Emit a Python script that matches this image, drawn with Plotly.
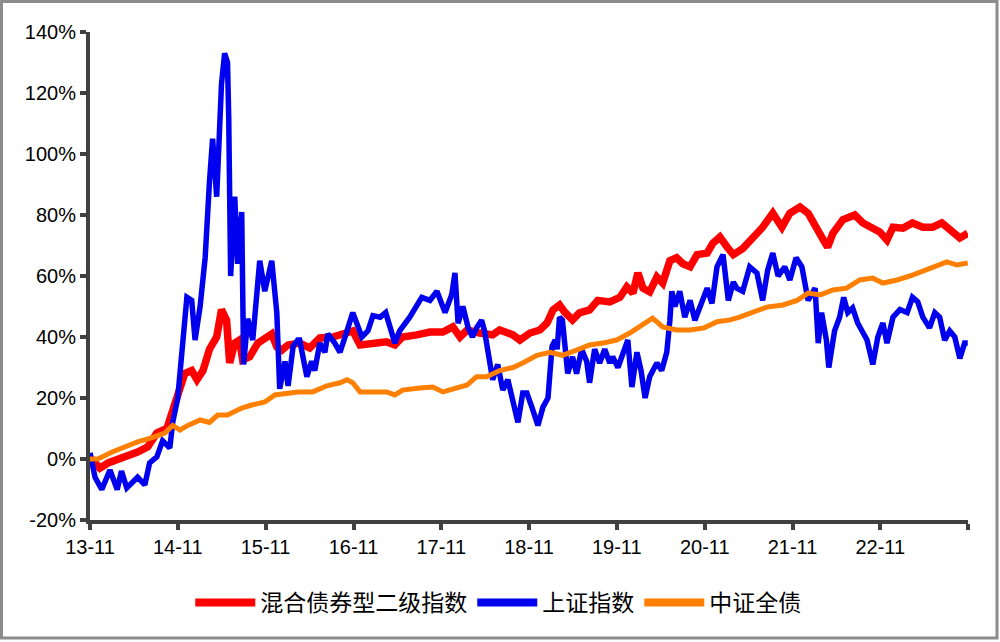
import plotly.graph_objects as go

# ---------------- data (values in %) ----------------
hybrid_dates = [
    "2013-11-01", "2013-12-12", "2014-01-15", "2014-02-26", "2014-04-07", "2014-05-18",
    "2014-06-29", "2014-08-06", "2014-09-17", "2014-10-11", "2014-11-10", "2014-11-30",
    "2014-12-29", "2015-01-20", "2015-02-14", "2015-03-13", "2015-04-12", "2015-05-02",
    "2015-05-23", "2015-06-05", "2015-06-26", "2015-07-16", "2015-07-29", "2015-08-27",
    "2015-09-30", "2015-11-07", "2015-11-27", "2015-12-18", "2016-01-08", "2016-02-03",
    "2016-03-14", "2016-03-22", "2016-05-03", "2016-06-14", "2016-08-07", "2016-10-05",
    "2016-10-29", "2016-11-28", "2017-01-21", "2017-03-19", "2017-04-22", "2017-05-24",
    "2017-07-22", "2017-09-15", "2017-11-08", "2017-12-19", "2018-01-18", "2018-02-17",
    "2018-04-10", "2018-06-03", "2018-07-02", "2018-08-26", "2018-09-24", "2018-11-05",
    "2018-12-16", "2019-01-15", "2019-02-09", "2019-03-08", "2019-03-29", "2019-05-01",
    "2019-05-30", "2019-07-11", "2019-08-14", "2019-10-03", "2019-11-14", "2019-12-13",
    "2020-01-07", "2020-01-28", "2020-02-18", "2020-03-17", "2020-04-16", "2020-05-10",
    "2020-06-09", "2020-07-07", "2020-08-02", "2020-09-01", "2020-09-30", "2020-11-11",
    "2020-12-05", "2021-01-03", "2021-02-02", "2021-02-28", "2021-04-08", "2021-05-19",
    "2021-06-30", "2021-08-11", "2021-09-18", "2021-10-21", "2021-12-02", "2022-01-05",
    "2022-02-12", "2022-03-02", "2022-03-27", "2022-04-18", "2022-05-29", "2022-07-18",
    "2022-08-21", "2022-10-01", "2022-10-30", "2022-11-29", "2022-12-24", "2023-02-04",
    "2023-03-15", "2023-04-27", "2023-06-07", "2023-07-15", "2023-08-17", "2023-09-28",
    "2023-10-31",
]
hybrid_vals = [
    0.5, -3, -1.3, 0, 0.7, 2.3,
    4, 8.5, 10, 16, 21.6, 28,
    29, 26, 29, 36, 40, 49,
    45.5, 31.5, 38, 39, 32.5, 33.5,
    38, 39.7, 41, 36.7, 35.7, 37.4,
    38.4, 38, 36.4, 39.7, 40, 41.6,
    42, 37.4, 38, 38.4, 37.4, 40,
    40.7, 41.6, 41.6, 43.3, 40, 42.3,
    41.3, 40.7, 42.3, 40.7, 39, 41.3,
    42.3, 44.6, 48.9, 50.5, 48.2, 45.6,
    47.9, 48.9, 52, 51.5, 53, 56.4,
    54.4, 61, 56, 54.8, 59.7, 57.7,
    65, 66, 64, 63, 67, 67.5,
    70.8, 72.8, 69.5, 67, 69, 72.5,
    76, 80.6, 76, 80.6, 82.6, 80.6,
    76, 72.8, 69.5, 74, 78.4, 80,
    77.4, 76, 74.4, 71.8, 76, 75.7,
    77.4, 76, 76, 77.4, 75, 72.5,
    74,
]

sse_dates = [
    "2013-11-01", "2013-11-22", "2013-12-20", "2014-01-23", "2014-02-22", "2014-03-12",
    "2014-04-03", "2014-05-18", "2014-06-17", "2014-07-07", "2014-08-06", "2014-08-30",
    "2014-09-29", "2014-10-11", "2014-11-01", "2014-11-18", "2014-12-09", "2014-12-29",
    "2015-01-12", "2015-02-02", "2015-02-23", "2015-03-13", "2015-03-26", "2015-04-12",
    "2015-04-24", "2015-05-02", "2015-05-15", "2015-05-27", "2015-06-01", "2015-06-09",
    "2015-06-26", "2015-07-08", "2015-07-25", "2015-08-02", "2015-08-19", "2015-09-09",
    "2015-10-08", "2015-10-29", "2015-11-27", "2015-12-18", "2015-12-30", "2016-01-21",
    "2016-02-03", "2016-02-24", "2016-03-14", "2016-03-22", "2016-04-21", "2016-05-11",
    "2016-05-24", "2016-06-14", "2016-07-05", "2016-07-17", "2016-08-15", "2016-09-06",
    "2016-10-05", "2016-10-29", "2016-12-06", "2016-12-31", "2017-01-21", "2017-02-20",
    "2017-03-15", "2017-04-22", "2017-05-12", "2017-06-23", "2017-08-12", "2017-09-15",
    "2017-10-14", "2017-11-17", "2017-12-15", "2017-12-28", "2018-01-10", "2018-01-30",
    "2018-02-21", "2018-03-11", "2018-03-28", "2018-04-18", "2018-04-30", "2018-05-21",
    "2018-06-03", "2018-06-24", "2018-07-15", "2018-08-05", "2018-08-26", "2018-09-16",
    "2018-10-06", "2018-10-23", "2018-11-13", "2018-12-08", "2018-12-29", "2019-01-19",
    "2019-02-05", "2019-02-18", "2019-02-26", "2019-03-08", "2019-03-20", "2019-04-11",
    "2019-05-01", "2019-05-18", "2019-06-08", "2019-06-29", "2019-07-11", "2019-08-01",
    "2019-08-22", "2019-09-12", "2019-10-03", "2019-10-15", "2019-11-06", "2019-12-05",
    "2019-12-17", "2020-01-03", "2020-01-24", "2020-02-10", "2020-02-27", "2020-03-17",
    "2020-04-16", "2020-05-06", "2020-05-27", "2020-06-09", "2020-06-17", "2020-06-30",
    "2020-07-20", "2020-08-10", "2020-09-01", "2020-09-21", "2020-10-12", "2020-11-11",
    "2020-12-01", "2020-12-22", "2021-01-16", "2021-02-07", "2021-02-28", "2021-03-14",
    "2021-04-08", "2021-05-07", "2021-06-06", "2021-06-30", "2021-07-21", "2021-08-11",
    "2021-09-02", "2021-09-30", "2021-10-21", "2021-11-16", "2021-12-10", "2022-01-05",
    "2022-02-03", "2022-02-16", "2022-03-02", "2022-03-22", "2022-04-01", "2022-04-25",
    "2022-05-16", "2022-06-02", "2022-06-19", "2022-07-09", "2022-07-30", "2022-09-07",
    "2022-10-01", "2022-10-22", "2022-11-12", "2022-11-29", "2022-12-24", "2023-01-22",
    "2023-02-21", "2023-03-15", "2023-04-06", "2023-04-27", "2023-05-25", "2023-06-16",
    "2023-07-06", "2023-07-27", "2023-08-17", "2023-09-07", "2023-09-28", "2023-10-18",
    "2023-10-31",
]
sse_vals = [
    2, -6, -10, -3.6, -10, -4,
    -9.5, -6, -8.5, -1.3, 0.7, 6,
    3.6, 12, 20, 36, 53, 52,
    39, 50, 66, 91, 105, 86,
    108, 123, 133, 130, 112, 60,
    86, 64, 81, 31, 46, 39,
    65, 55, 65, 48, 23, 32,
    24, 37, 39, 39, 27, 32,
    29, 38, 35, 41, 38, 35,
    42, 48, 40, 42, 47, 46.5,
    48, 38, 42, 46.5, 53, 52,
    55, 48, 54, 61, 44.5, 50,
    43, 40, 43, 45.5, 42, 31.5,
    26, 31, 22.6, 26, 19.3, 12,
    21.6, 21.6, 17, 11, 17, 20,
    37, 39, 36, 46.5, 45.5, 28,
    33.5, 28, 36, 32, 25, 36,
    31.5, 36, 31.5, 33.5, 30, 37,
    39, 23.6, 35, 29, 20, 27,
    31.5, 29, 35, 45.5, 55, 50,
    55, 46.5, 52, 45.5, 50, 56,
    51, 63, 67, 52, 58, 56,
    55, 63, 61, 52, 62, 67.5,
    60, 63, 58.7, 66, 63, 52,
    56, 38, 48, 39, 30, 42,
    46.5, 53, 48, 49.5, 44.6, 39,
    31, 40, 44.6, 38, 46.5, 49,
    48, 53, 51.5, 46.5, 43, 48,
    46.5, 39, 42, 40, 33, 38,
    38,
]

bond_dates = [
    "2013-11-01", "2013-12-04", "2014-02-01", "2014-03-24", "2014-05-18", "2014-07-15",
    "2014-09-08", "2014-10-11", "2014-11-10", "2014-12-13", "2015-02-02", "2015-03-13",
    "2015-04-16", "2015-05-27", "2015-07-25", "2015-09-05", "2015-10-29", "2015-12-10",
    "2016-02-03", "2016-03-14", "2016-05-15", "2016-07-13", "2016-09-06", "2016-10-05",
    "2016-10-29", "2016-11-28", "2017-01-21", "2017-03-19", "2017-04-22", "2017-05-24",
    "2017-08-04", "2017-09-27", "2017-11-08", "2018-01-06", "2018-02-17", "2018-03-28",
    "2018-05-09", "2018-07-02", "2018-08-26", "2018-10-06", "2018-11-05", "2018-12-04",
    "2019-01-27", "2019-03-20", "2019-05-18", "2019-07-11", "2019-09-04", "2019-11-01",
    "2019-12-25", "2020-02-18", "2020-03-29", "2020-05-10", "2020-07-07", "2020-09-01",
    "2020-10-30", "2020-12-22", "2021-02-15", "2021-03-26", "2021-05-19", "2021-07-17",
    "2021-09-22", "2021-11-20", "2022-01-05", "2022-02-24", "2022-04-18", "2022-06-14",
    "2022-08-08", "2022-10-01", "2022-11-12", "2023-01-10", "2023-03-15", "2023-05-25",
    "2023-08-05", "2023-09-16", "2023-10-31",
]
bond_vals = [
    0, 0, 2.3, 4, 5.6, 6.9,
    8.5, 11, 9.5, 11, 12.8, 12,
    14.4, 14.4, 16.7, 17.7, 18.7, 21,
    21.6, 22, 22, 24, 25, 26,
    25, 22, 22, 22, 21, 22.6,
    23.3, 23.6, 22, 23.3, 24.3, 27,
    27, 29, 30, 31.5, 33, 34,
    35, 34, 35.7, 37.4, 38, 39,
    41.3, 44, 46.2, 43.3, 42.3, 42.3,
    43, 45, 45.6, 46.5, 47.9, 49.8,
    50.5, 52, 54.4, 53.8, 55.4, 56,
    58.7, 59.3, 57.7, 58.7, 60.3, 62.6,
    64.6, 63.6, 64.3,
]

series_names = ["混合债券型二级指数", "上证指数", "中证全债"]
series_colors = ["#FF0000", "#0000EE", "#FF8000"]
tick_dates = ["2013-11-01", "2014-11-01", "2015-11-01", "2016-11-01", "2017-11-01",
              "2018-11-01", "2019-11-01", "2020-11-01", "2021-11-01", "2022-11-01",
              "2023-11-01"]
tick_labels = ["13-11", "14-11", "15-11", "16-11", "17-11", "18-11", "19-11", "20-11",
               "21-11", "22-11", ""]
y_ticks = [-20, 0, 20, 40, 60, 80, 100, 120, 140]
y_labels = ["-20%", "0%", "20%", "40%", "60%", "80%", "100%", "120%", "140%"]

# ---------------- figure ----------------
fig = go.Figure()
series = [(hybrid_dates, hybrid_vals, 7.5), (sse_dates, sse_vals, 5.5), (bond_dates, bond_vals, 5)]
for (xs, ys, w), name, col in zip(series, series_names, series_colors):
    fig.add_trace(go.Scatter(x=xs, y=ys, name=name, mode="lines", showlegend=False,
                             line=dict(color=col, width=w)))
# legend entries (uniform thick swatches, as in the original)
for name, col in zip(series_names, series_colors):
    fig.add_trace(go.Scatter(x=[None], y=[None], name=name, mode="lines", showlegend=True,
                             line=dict(color=col, width=8)))

axis_color = "#404040"
fig.update_layout(
    width=1000, height=642,
    margin=dict(l=90, r=32, t=32, b=122),
    paper_bgcolor="white", plot_bgcolor="white",
    showlegend=True,
    legend=dict(orientation="h", x=0.465, xanchor="center", y=-0.125, yanchor="top",
                font=dict(family="Noto Sans CJK SC", size=23, color="#000000"),
                itemwidth=60, tracegroupgap=0, itemclick=False),
    xaxis=dict(type="date", range=["2013-11-01", "2023-11-01"],
               tickmode="array", tickvals=tick_dates, ticktext=tick_labels,
               showline=True, linecolor=axis_color, linewidth=4,
               ticks="outside", ticklen=6, tickwidth=4, tickcolor=axis_color,
               showgrid=False, zeroline=False,
               tickfont=dict(family="Liberation Sans, Arial", size=20, color="#000000")),
    yaxis=dict(range=[-20, 140], tickmode="array", tickvals=y_ticks, ticktext=y_labels,
               showline=True, linecolor=axis_color, linewidth=4,
               ticks="outside", ticklen=6, tickwidth=4, tickcolor=axis_color,
               showgrid=False, zeroline=False,
               tickfont=dict(family="Liberation Sans, Arial", size=20, color="#000000")),
    shapes=[dict(type="rect", xref="paper", yref="paper",
                 x0=(1.5 - 90) / 878, x1=(997 - 90) / 878,
                 y0=(520 - 638) / 488, y1=(520 - 1.5) / 488,
                 line=dict(color="#8C8C8C", width=3), fillcolor="rgba(0,0,0,0)",
                 layer="below")],
)

fig.write_html("out.html")
